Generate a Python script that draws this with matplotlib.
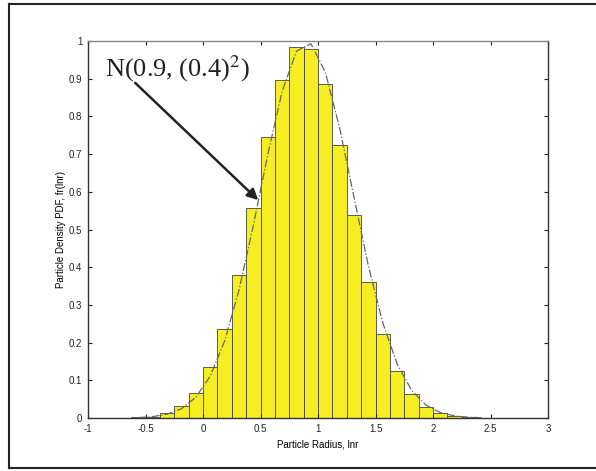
import matplotlib
matplotlib.use("Agg")
import matplotlib.pyplot as plt
from matplotlib.lines import Line2D
import numpy as np

# histogram bins (width 0.125) and normalised heights
bin_edges = np.arange(-0.625, 2.5 + 0.001, 0.125)
bin_heights = [0.002, 0.004, 0.014, 0.032, 0.067, 0.134, 0.235, 0.379, 0.557,
               0.745, 0.897, 0.984, 0.979, 0.886, 0.724, 0.538, 0.361, 0.223,
               0.125, 0.064, 0.029, 0.013, 0.005, 0.002, 0.001]

# fitted normal pdf sampled at the bin centres
pdf_x = [-0.5625, -0.4375, -0.3125, -0.1875, -0.0625, 0.0625, 0.1875, 0.3125,
         0.4375, 0.5625, 0.6875, 0.8125, 0.9375, 1.0625, 1.1875, 1.3125,
         1.4375, 1.5625, 1.6875, 1.8125, 1.9375, 2.0625, 2.1875, 2.3125, 2.4375]
pdf_y = [0.0012, 0.0037, 0.010, 0.0247, 0.0552, 0.111, 0.204, 0.339, 0.511,
         0.698, 0.866, 0.973, 0.993, 0.918, 0.770, 0.586, 0.404, 0.253,
         0.1436, 0.0739, 0.0345, 0.0146, 0.0056, 0.002, 0.0006]

xticks = [-1, -0.5, 0, 0.5, 1, 1.5, 2, 2.5, 3]
yticks = [0, 0.1, 0.2, 0.3, 0.4, 0.5, 0.6, 0.7, 0.8, 0.9, 1]

plt.rcParams['font.family'] = ['Liberation Sans', 'DejaVu Sans']
plt.rcParams['mathtext.fontset'] = 'stix'

fig = plt.figure(figsize=(5.96, 4.71), dpi=100)
ax = fig.add_axes([0.1477, 0.1125, 0.7718, 0.8004])

ax.bar(bin_edges[:-1], bin_heights, width=0.125, align='edge',
       color='#f6ee22', edgecolor='#444444', linewidth=0.6)
ax.plot(pdf_x, pdf_y, linestyle='-.', color='#666666', linewidth=0.9)

ax.set_xlim(-1, 3)
ax.set_ylim(0, 1)
ax.set_xticks(xticks)
ax.set_xticklabels([f"{t:g}" for t in xticks])
ax.set_yticks(yticks)
ax.set_yticklabels([f"{t:g}" for t in yticks])
ax.tick_params(direction='in', top=True, right=True, labelsize=7,
               length=3, width=0.8, colors='#222222', pad=4)
for s in ax.spines.values():
    s.set_color('#333333')
    s.set_linewidth(1.0)
ax.spines['top'].set_color('#888888')

ax.set_xlabel("Particle Radius, lnr", fontsize=7, labelpad=4)
ax.set_ylabel("Particle Density PDF, fr(lnr)", fontsize=7, labelpad=2)

# label for the fitted curve, with an arrow pointing at it
ax.text(-0.85, 0.905, r"N(0.9, (0.4)$^{2}$)", fontsize=19,
        family='Liberation Serif', color='#222222', va='baseline', ha='left')
ax.annotate("", xy=(0.48, 0.578), xytext=(-0.59, 0.889),
            arrowprops=dict(arrowstyle='-|>', color='#222222', lw=1.8,
                            mutation_scale=16, shrinkA=0, shrinkB=0))

# page frame
frame_kw = dict(color='#222222', linewidth=1.5, transform=fig.transFigure)
fig.add_artist(Line2D([0.015, 1.0], [0.9915, 0.9915], **frame_kw))
fig.add_artist(Line2D([0.015, 1.0], [0.0064, 0.0064], **frame_kw))
fig.add_artist(Line2D([0.015, 0.015], [0.0064, 0.9915], **frame_kw))

fig.savefig("out.png", dpi=100)
